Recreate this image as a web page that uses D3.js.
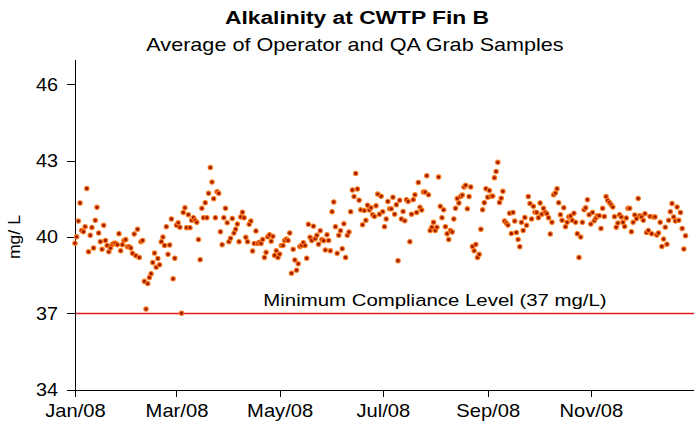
<!DOCTYPE html>
<meta charset="utf-8">
<style>
body { margin: 0; background: #fff; }
text { font-family: "Liberation Sans", Arial, sans-serif; }
.axis path, .axis line { stroke: #000; shape-rendering: crispEdges; }
.axis text { font-size: 17px; fill: #000; }
</style>
<body>
<script src="https://d3js.org/d3.v7.min.js"></script>
<script>

// daily averages (mg/L), one array per month of 2008
var jan = [39.76,40.01,40.63,41.34,40.26,40.21,40.41,41.91,39.42,40.07,40.38,39.57,40.66,41.17,40.16,39.82,39.52,40.46,39.87,39.67,39.42,39.57,39.71,39.76,39.76,39.70,40.13,39.46,39.70,39.87,39.90];
var feb = [39.62,39.62,39.57,39.36,40.12,39.27,40.31,39.20,39.82,39.87,38.26,37.17,38.17,38.41,38.56,39.00,39.37,38.81,39.16,38.91,39.82,40.00,39.67,40.41,39.32,39.69,40.71,38.36,39.17];
var mar = [40.46,40.56,40.39,37.01,40.97,41.15,40.37,40.88,40.37,40.66,40.76,40.66,40.58,39.90,39.11,41.13,40.76,41.35,40.76,41.72,42.73,42.16,41.51,40.76,41.78,41.72,40.21,39.70,40.76,41.13,40.56];
var apr = [39.82,39.95,40.73,40.16,40.31,40.51,39.82,40.79,40.98,40.76,39.99,39.82,40.50,40.63,39.45,39.75,40.24,39.75,39.80,39.75,39.90,39.20,39.40,40.01,40.09,39.84,40.03,39.28,39.46,39.20];
var may = [39.33,39.67,39.67,39.87,39.92,39.87,40.16,38.58,39.52,39.10,38.70,38.95,39.63,39.67,39.78,39.67,39.17,40.50,39.99,39.87,40.43,39.93,40.07,39.72,40.25,39.90,39.86,39.49,40.09,39.87,39.46];
var jun = [41.00,41.38,40.41,39.36,40.07,40.25,39.54,40.52,39.20,40.07,40.20,41.00,41.85,41.59,42.50,41.89,41.45,41.07,40.48,41.04,40.66,41.25,41.06,41.15,40.88,40.81,41.23,41.69,40.90,41.60];
var jul = [41.00,40.41,40.71,41.40,41.11,41.11,41.57,40.90,41.27,39.07,41.45,40.71,41.01,40.64,41.47,41.40,39.82,40.90,41.47,41.66,40.97,42.15,41.17,41.06,41.77,41.77,42.41,41.66,40.26,40.39,40.58];
var aug = [40.26,40.39,42.36,41.21,40.76,41.07,40.41,40.13,39.90,40.26,40.20,40.71,41.13,41.52,41.34,41.59,41.65,41.97,42.04,41.11,41.59,41.97,39.63,39.46,39.71,39.20,39.32,40.31,41.07,41.35,41.90];
var sep = [41.57,41.83,41.60,41.61,42.33,42.58,42.94,41.36,41.53,41.80,40.63,40.55,40.47,40.94,40.14,40.97,40.63,40.18,39.90,39.62,40.58,40.26,40.77,40.46,41.59,41.32,40.71,41.21,40.98,40.97];
var oct = [40.76,41.34,40.90,41.13,40.98,40.92,40.76,40.12,40.58,41.66,41.73,41.90,41.35,40.88,40.66,41.15,40.41,40.58,40.80,40.83,40.66,40.94,40.58,40.13,39.20,40.00,40.58,41.07,41.15,41.47,40.88];
var nov = [40.51,40.97,40.64,40.75,40.84,40.84,40.34,41.13,40.81,41.59,41.44,41.36,41.27,41.18,40.80,40.39,40.55,40.88,40.79,40.58,40.42,40.75,41.13,41.13,40.21,40.58,40.87,40.72,41.52,40.84];
var dec = [40.79,40.66,40.92,40.18,40.26,40.81,40.13,40.79,40.79,40.08,40.16,40.58,39.63,39.92,40.39,39.72,40.66,41.00,41.32,40.79,40.63,41.18,40.66,40.97,40.34,39.53,40.05];

var yTicks = [34, 37, 40, 43, 46];
var xTickMonths = [0, 2, 4, 6, 8, 10];
var compliance = 37;

var months = [jan, feb, mar, apr, may, jun, jul, aug, sep, oct, nov, dec];
var data = [];
months.forEach(function(m, mi) {
  m.forEach(function(v, di) {
    data.push({ date: new Date(2008, mi, di + 1), value: v });
  });
});

var W = 694, H = 429;
var margin = { top: 59, right: 0, bottom: 39.3, left: 75 };
var stretch = 1.2; // the original chart text is drawn a bit wide

var svg = d3.select("body").append("svg")
    .attr("width", W)
    .attr("height", H);

var x = d3.scaleTime()
    .domain([new Date(2008, 0, 1), new Date(2009, 0, 1)])
    .range([margin.left, W - margin.right]);

var y = d3.scaleLinear()
    .domain([34, 47])
    .range([H - margin.bottom, margin.top]);

function wideText(px, py, size, str) {
  return svg.append("text")
    .attr("transform", "translate(" + px + "," + py + ") scale(" + stretch + ",1)")
    .attr("text-anchor", "middle")
    .style("font-size", size + "px")
    .text(str);
}

// titles
wideText(357, 24, 19, "Alkalinity at CWTP Fin B").style("font-weight", "bold");
wideText(355, 51, 18, "Average of Operator and QA Grab Samples");

// compliance line
svg.append("line")
    .attr("x1", x.range()[0]).attr("x2", x.range()[1])
    .attr("y1", y(compliance)).attr("y2", y(compliance))
    .attr("stroke", "#e31a1c")
    .attr("stroke-width", 1.5);

wideText(435, y(compliance) - 7, 17, "Minimum Compliance Level (37 mg/L)");

// axes
var xAxis = svg.append("g")
    .attr("class", "axis")
    .attr("transform", "translate(0," + y(34) + ")")
    .call(d3.axisBottom(x)
      .tickValues(xTickMonths.map(function(m) { return new Date(2008, m, 1); }))
      .tickFormat(d3.timeFormat("%b/%y"))
      .tickSize(7).tickSizeOuter(0).tickPadding(8));
xAxis.selectAll("text")
    .style("font-size", "18px")
    .attr("transform", "scale(1.12,1)");

var yAxis = svg.append("g")
    .attr("class", "axis")
    .attr("transform", "translate(" + margin.left + ",0)")
    .call(d3.axisLeft(y).tickValues(yTicks).tickSize(8).tickSizeOuter(0).tickPadding(9));
yAxis.selectAll("text")
    .style("font-size", "18px")
    .attr("x", -17 / 1.1)
    .attr("transform", "scale(1.1,1)");

svg.append("text")
    .attr("transform", "translate(20," + y(40) + ") rotate(-90) scale(1.1,1)")
    .attr("text-anchor", "middle")
    .style("font-size", "16px")
    .text("mg/ L");

// points
svg.append("g").selectAll("circle")
    .data(data)
    .enter().append("circle")
    .attr("cx", function(d) { return x(d.date); })
    .attr("cy", function(d) { return y(d.value); })
    .attr("r", 2.2)
    .attr("fill", "#9a1c00")
    .attr("stroke", "#ff7a1a")
    .attr("stroke-width", 1.1);

</script>
</body>
